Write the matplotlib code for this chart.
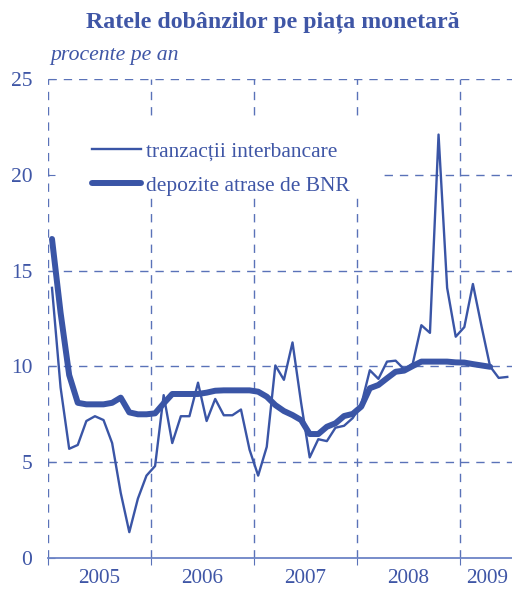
import matplotlib.pyplot as plt
from matplotlib.patches import Rectangle
from matplotlib.ticker import FixedLocator, NullFormatter, FixedFormatter

# monthly data, Jan 2005 - Jun 2009 (percent per year)
interbank = [14.1, 8.9, 5.7, 5.9, 7.15, 7.4, 7.2, 6.0, 3.4, 1.35, 3.1, 4.3,
             4.8, 8.5, 6.0, 7.4, 7.4, 9.15, 7.15, 8.3, 7.45, 7.45, 7.75, 5.65,
             4.3, 5.8, 10.05, 9.3, 11.25, 8.1, 5.25, 6.2, 6.1, 6.8, 6.9, 7.3,
             8.0, 9.8, 9.35, 10.25, 10.3, 9.85, 10.15, 12.15, 11.75, 22.1, 14.1, 11.55,
             12.05, 14.3, 12.1, 10.0, 9.4, 9.45]
bnr_deposits = [16.65, 12.8, 9.55, 8.1, 8.02, 8.02, 8.02, 8.1, 8.37, 7.6, 7.5, 7.5,
                7.55, 8.07, 8.56, 8.56, 8.56, 8.56, 8.63, 8.73, 8.75, 8.75, 8.75, 8.75,
                8.68, 8.42, 7.98, 7.67, 7.46, 7.2, 6.47, 6.47, 6.85, 7.03, 7.41, 7.52,
                7.9, 8.86, 9.03, 9.38, 9.72, 9.78, 10.02, 10.25, 10.25, 10.25, 10.25, 10.21,
                10.2, 10.12, 10.05, 9.98]
years = ["2005", "2006", "2007", "2008", "2009"]
yticks = [0, 5, 10, 15, 20, 25]

blue = "#3a55a6"
grid_blue = "#5a72b8"
text_blue = "#3f56a6"

plt.rcParams['font.family'] = ['Liberation Serif', 'DejaVu Serif']

fig = plt.figure(figsize=(5.12, 5.91), dpi=100)
ax = fig.add_axes([47.7 / 512, 33 / 591, 1 - 47.7 / 512, 479 / 591])

ax.plot(range(len(interbank)), interbank, color=blue, lw=1.7, zorder=3,
        label="tranzacții interbancare")
ax.plot(range(len(bnr_deposits)), bnr_deposits, color=blue, lw=4.3, zorder=4,
        solid_capstyle='round', label="depozite atrase de BNR")

ax.set_xlim(-0.5, -0.5 + (512 - 47.7) / 8.59)
ax.set_ylim(0, 25)

bounds = [-0.5 + 12 * k for k in range(5)]
centers = [5.5, 17.5, 29.5, 41.5, 50.6]
ax.xaxis.set_major_locator(FixedLocator(bounds))
ax.xaxis.set_major_formatter(NullFormatter())
ax.xaxis.set_minor_locator(FixedLocator(centers))
ax.xaxis.set_minor_formatter(FixedFormatter(years))
ax.tick_params(axis='x', which='major', direction='out', length=5, color=grid_blue)
ax.tick_params(axis='x', which='minor', length=0, pad=8, labelsize=15.2, labelcolor=text_blue)
ax.set_yticks(yticks)
ax.tick_params(axis='y', direction='in', length=5, color=grid_blue, pad=11,
               labelsize=15.5, labelcolor=text_blue)

# dashed grid
for y in yticks[1:]:
    ax.axhline(y, color=grid_blue, lw=1.0, ls=(0, (6, 5)), zorder=1)
for b in bounds:
    ax.axvline(b, color=grid_blue, lw=1.0, ls=(0, (6, 5)), zorder=1 if b > 0 else 2.5)

# white patch behind the legend
ax.add_patch(Rectangle((2.5 / 464.3, (558 - 197) / 479), (383 - 50) / 464.3, 75 / 479,
                       transform=ax.transAxes, facecolor='white', edgecolor='none',
                       zorder=1.5))

for s in ['top', 'right', 'left']:
    ax.spines[s].set_visible(False)
ax.spines['bottom'].set_color("#6c84c6")
ax.spines['bottom'].set_linewidth(1.3)

leg = ax.legend(loc='upper left', bbox_to_anchor=((92 - 47.7) / 464.3, 0.869),
                frameon=False, fontsize=15.5, handlelength=2.28, handletextpad=0.25,
                borderpad=0, labelspacing=0.65, borderaxespad=0)
for t in leg.get_texts():
    t.set_color(text_blue)

fig.text(0.532, 0.963, "Ratele dobânzilor pe piața monetară", ha='center', va='center',
         fontsize=17.2, fontweight='bold', color=text_blue)
fig.text(50 / 512, 0.906, "procente pe an", ha='left', va='center', fontsize=15.7,
         style='italic', color=text_blue)

fig.savefig("out.png", dpi=100)
